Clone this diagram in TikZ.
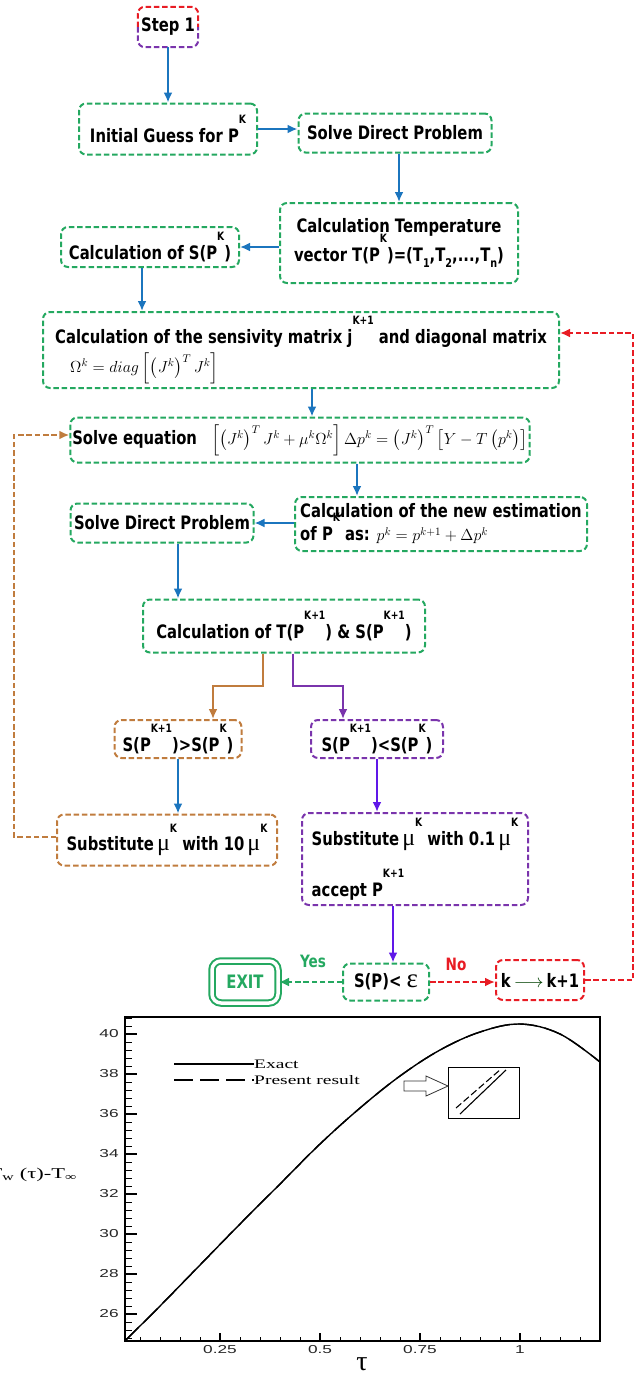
\RequirePackage{fix-cm}
\documentclass[tikz,border=0pt]{standalone}
\usepackage{amsmath}
\usepackage{fontspec}
\usepackage{xcolor}
\usepackage{tikz}
\usetikzlibrary{arrows.meta}
\usetikzlibrary{positioning}

\newfontfamily\boxfont[FakeStretch=0.8]{DejaVu Sans}
\newfontfamily\grkfont{Liberation Serif}
\newfontfamily\plotserif[FakeStretch=1.5]{Liberation Serif}
\newfontfamily\plotsans[FakeStretch=1.5]{Liberation Sans}

\definecolor{boxgreen}{RGB}{36,168,96}
\definecolor{flowblue}{RGB}{27,117,190}
\definecolor{flowbrown}{RGB}{192,124,62}
\definecolor{flowpurple}{RGB}{122,52,172}
\definecolor{flowviolet}{RGB}{96,24,232}
\definecolor{flowred}{RGB}{232,28,36}

\newcommand{\upk}[1]{\raisebox{1.0em}{\fontsize{11.5}{12}\selectfont #1}}
\newcommand{\upks}[1]{\raisebox{1.05em}[0pt][0pt]{\fontsize{11.5}{12}\selectfont #1}}
\newcommand{\dnk}[1]{\raisebox{-0.28em}{\fontsize{12}{12}\selectfont #1}}
\newcommand{\mug}{{\grkfont\mdseries\fontsize{24}{24}\selectfont μ}}
\newcommand{\epsg}{{\grkfont\mdseries\fontsize{27}{27}\selectfont ε}}
\newcommand{\eqsize}{\fontsize{16}{20}\selectfont}

\begin{document}
\begin{tikzpicture}[x=1pt,y=-1pt,
  >={Latex[length=10pt,width=9pt]},
  flowtext/.style={inner sep=2pt,font=\boxfont\bfseries\fontsize{18.5}{29}\selectfont},
  gbox/.style={flowtext,draw=boxgreen,line width=2pt,dash pattern=on 5.5pt off 2.8pt,rounded corners=7pt},
  brbox/.style={gbox,draw=flowbrown},
  pubox/.style={gbox,draw=flowpurple},
  rdbox/.style={gbox,draw=flowred},
  exitbox/.style={flowtext,draw=boxgreen,text=boxgreen,line width=2pt,double=white,double distance=3.5pt,rounded corners=9pt},
  stepbox/.style={flowtext},
  stepedge/.style={line width=2pt,dash pattern=on 5.5pt off 2.8pt,rounded corners=7pt},
  bluearrow/.style={->,draw=flowblue,line width=2pt},
  brownarrow/.style={->,draw=flowbrown,line width=2pt},
  purplearrow/.style={->,draw=flowpurple,line width=2pt},
  violetarrow/.style={->,draw=flowviolet,line width=2pt},
  dasharrow/.style={->,line width=2pt,dash pattern=on 5.5pt off 2.8pt},
  answer/.style={font=\boxfont\bfseries\fontsize{17}{17}\selectfont},
  ticklab/.style={font=\plotsans\fontsize{11.5}{12}\selectfont,text=black!85,inner sep=0pt},
  legtext/.style={font=\plotserif\fontsize{13}{13}\selectfont,inner sep=0pt,anchor=west}]

\useasboundingbox (0,0) rectangle (640,1376);

% flow chart
\node[stepbox,minimum width=60pt,minimum height=40pt] (st) at (168,27) {Step 1};
\draw[stepedge,draw=flowred] (st.west) |- (st.north) -| (st.east);
\draw[stepedge,draw=flowpurple] (st.west) |- (st.south) -| (st.east);

\node[gbox,minimum width=178pt,minimum height=51pt] (guess) at (168,129) {Initial Guess for P\upk{K}};
\node[gbox,minimum width=193pt,minimum height=39pt] (solve1) at (395,133) {Solve Direct Problem};
\node[gbox,minimum width=238pt,minimum height=80pt,align=center] (temp) at (399,243)
  {Calculation Temperature\\vector T(P\upks{K})=(T\dnk{1},T\dnk{2},...,T\dnk{n})};
\node[gbox,minimum width=178pt,minimum height=40pt] (scalc) at (150,247) {Calculation of S(P\upk{K})};
\node[gbox,minimum width=516pt,minimum height=76pt,align=left] (sens) at (301,350)
  {Calculation of the sensivity matrix j\upk{K+1} and diagonal matrix\\
   \hspace*{15pt}{\eqsize$\Omega^{k}=diag\left[\left(J^{k}\right)^{T}J^{k}\right]$}};
\node[gbox,minimum width=457pt,minimum height=45pt] (solveq) at (300,440)
  {Solve equation\hspace{14pt}{\eqsize$\left[\left(J^{k}\right)^{T}J^{k}+\mu^{k}\Omega^{k}\right]\Delta p^{k}=\left(J^{k}\right)^{T}\left[Y-T\left(p^{k}\right)\right]$}};
\node[gbox,minimum width=292pt,minimum height=54pt,align=left] (newest) at (441,524)
  {Calculation of the new estimation\\[-6pt]of P\upks{K} as: {\eqsize$p^{k}=p^{k+1}+\Delta p^{k}$}};
\node[gbox,minimum width=183pt,minimum height=39pt] (solve2) at (162,523) {Solve Direct Problem};
\node[gbox,minimum width=282pt,minimum height=53pt] (tcalc) at (284,626) {Calculation of T(P\upk{K+1}) \& S(P\upk{K+1})};
\node[brbox,minimum width=127pt,minimum height=38pt] (sgt) at (178,739) {S(P\upk{K+1})>S(P\upk{K})};
\node[pubox,minimum width=132pt,minimum height=38pt] (slt) at (377,739) {S(P\upk{K+1})<S(P\upk{K})};
\node[brbox,minimum width=220pt,minimum height=51pt] (sub10) at (167,840) {Substitute\,\mug\upk{K} with 10\,\mug\upk{K}};
\node[pubox,minimum width=226pt,minimum height=92pt,align=left] (sub01) at (415,859)
  {Substitute\,\mug\upk{K} with 0.1\,\mug\upk{K}\\[18pt]accept P\upk{K+1}};
\node[exitbox,minimum width=66pt,minimum height=42pt] (exitb) at (245,982) {EXIT};
\node[gbox,minimum width=86pt,minimum height=37pt] (conv) at (386,982) {S(P)< \epsg};
\node[rdbox,minimum width=88pt,minimum height=40pt] (kinc) at (540,980) {k\,{\color{black!75!green}$\longrightarrow$}\,k+1};
\node[answer,text=boxgreen] (yes) at (313,961) {Yes};
\node[answer,text=flowred] (no) at (456,964) {No};

% helper points for the arrows
\coordinate (a1) at ([xshift=-8pt]scalc.south);
\coordinate (a2) at ([xshift=11pt]sens.south);
\coordinate (a3) at ([xshift=57pt]solveq.south);
\coordinate (a4) at ([xshift=16pt]solve2.south);
\coordinate (b1) at ([xshift=-21pt]tcalc.south);
\coordinate (b2) at ([xshift=35pt]sgt.north);
\coordinate (p1) at ([xshift=9pt]tcalc.south);
\coordinate (p2) at ([xshift=-34pt]slt.north);
\coordinate (c1) at ([xshift=-22pt]sub01.south);
\coordinate (r1) at ([yshift=17pt]sens.east);
\coordinate (s1) at ([yshift=5pt]solveq.west);
\coordinate (s0) at ([yshift=3pt]sub10.west);

\draw[bluearrow] (st) -- (guess);
\draw[bluearrow] (guess.east) -- (guess.east -| solve1.west);
\draw[bluearrow] (solve1.south -| temp.north) -- (temp.north);
\draw[bluearrow] (scalc.east -| temp.west) -- (scalc.east);
\draw[bluearrow] (a1) -- (a1 |- sens.north);
\draw[bluearrow] (a2) -- (a2 |- solveq.north);
\draw[bluearrow] (a3) -- (a3 |- newest.north);
\draw[bluearrow] (solve2.east -| newest.west) -- (solve2.east);
\draw[bluearrow] (a4) -- (a4 |- tcalc.north);
\draw[brownarrow] (b1) -- ++(0,32) -| (b2);
\draw[purplearrow] (p1) -- ++(0,32) -| (p2);
\draw[bluearrow] (sgt.south) -- (sgt.south |- sub10.north);
\draw[violetarrow] (slt.south) -- (slt.south |- sub01.north);
\draw[violetarrow] (c1) -- (c1 |- conv.north);
\draw[dasharrow,draw=boxgreen] (conv.west) -- (conv.west -| exitb.east);
\draw[dasharrow,draw=flowred] (conv.east) -- (conv.east -| kinc.west);
\draw[dasharrow,draw=flowred] (kinc.east) -- ++(48,0) |- (r1);
\draw[dasharrow,draw=flowbrown] (s0) -- ++(-42,0) |- (s1);

% plot
\begin{scope}[shift={(120,1834)},x=400pt,y=20pt]
  \foreach \t in {0.05,0.10,...,1.16}
    \draw[line width=0.9pt] (\t,24.65) -- ++(0pt,4pt);
  \foreach \t/\s in {0.25/a,0.5/b,0.75/c,1/d} {
    \draw[line width=1.3pt] (\t,24.65) -- ++(0pt,8pt);
    \node[ticklab,anchor=north] (xl\s) at ([yshift=-4pt]\t,24.65) {\t};
  }
  \foreach \v in {24.8,25.2,...,40.85}
    \draw[line width=0.9pt] (0.012,\v) -- ++(7pt,0pt);
  \foreach \v in {26,28,...,40} {
    \draw[line width=1.3pt] (0.012,\v) -- ++(12pt,0pt);
    \node[ticklab,anchor=east] (yl\v) at ([xshift=-6pt]0.012,\v) {\v};
  }
  \draw[line width=1.6pt] (0.012,24.65) rectangle (1.2,40.85);
  \draw[line width=1.4pt] plot[smooth,tension=0.6] coordinates {
    (0.012,24.65) (0.1,26.4) (0.2,28.45) (0.3,30.5) (0.4,32.5) (0.5,34.5)
    (0.6,36.3) (0.7,37.9) (0.8,39.2) (0.9,40.1) (1.0,40.5) (1.1,40.0) (1.2,38.6)};
  \draw[line width=1.4pt,dash pattern=on 19pt off 8pt] plot[smooth,tension=0.6] coordinates {
    (0.012,24.65) (0.1,26.4) (0.2,28.45) (0.3,30.5) (0.4,32.5) (0.5,34.5)
    (0.6,36.3) (0.7,37.9) (0.8,39.2) (0.9,40.1) (1.0,40.5) (1.1,40.0) (1.2,38.6)};
\end{scope}

\node[legtext] (lexact) at (254,1064) {Exact};
\node[legtext] (lpres) at (254,1080) {Present result};
\coordinate (lx) at (174,1064);
\coordinate (lp) at (174,1080);
\draw[line width=1.3pt] (lx) -- (lexact.west);
\draw[line width=1.3pt,dash pattern=on 19pt off 7pt] (lp) -- (lpres.west);

\node[draw,line width=1pt,minimum width=71pt,minimum height=51pt,inner sep=0pt] (inset) at (483.5,1092.5) {};
\draw[line width=1.1pt] (460,1114) -- (506,1070);
\draw[line width=1.1pt,dash pattern=on 7pt off 3pt] (456,1108) -- (501,1069);
\draw[line width=0.8pt,black!80,fill=white] (404,1081) -- (426,1081) -- (426,1076) -- (448,1086)
  -- (426,1096) -- (426,1091) -- (404,1091) -- cycle;

\node[anchor=east,inner sep=0pt,font=\plotserif\fontsize{15}{15}\selectfont] (ytitle) at (77,1175)
  {T\textsubscript{w} (τ)-T\textsubscript{∞}};
\node[inner sep=0pt,font=\grkfont\fontsize{28}{28}\selectfont] (xtitle) at (362,1364) {τ};
\end{tikzpicture}
\end{document}
